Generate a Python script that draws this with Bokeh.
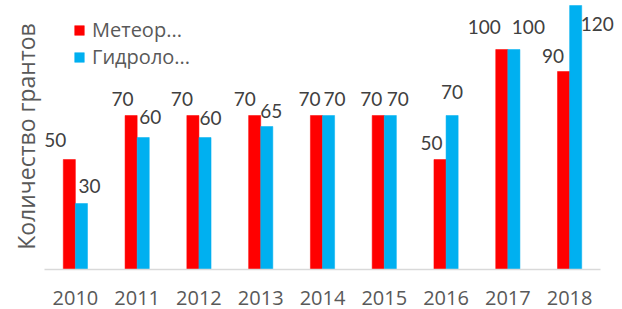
import math
from bokeh.plotting import figure
from bokeh.models import ColumnDataSource, Range1d, LabelSet, Label, Legend, LegendItem
from bokeh.transform import dodge
from bokeh.core.properties import value
from bokeh.embed import file_html
from bokeh.resources import INLINE

years = ["2010", "2011", "2012", "2013", "2014", "2015", "2016", "2017", "2018"]
meteo = [50, 70, 70, 70, 70, 70, 50, 100, 90]
hydro = [30, 60, 60, 65, 70, 70, 70, 100, 120]
series_names = ["Метеор...", "Гидроло..."]
y_title = "Количество грантов"

# label nudges (screen px) as in the reference
red_dx = [-14, -8.5, -11, -10, -7, -7, -8.5, -17.5, -10.5]
red_gap = [13, 10, 10, 10, 10, 10, 10, 16, 9]
blue_dx = [8, 7, 5.5, 4.5, 6, 7.5, 0, 14.5, 21.5]
blue_gap = [11, 14, 13, 9, 10, 10, 17, 16, -25]

RED = "#ff0000"
BLUE = "#00b0f0"

# layout (pixels)
W, H = 622, 309
PLOT_L, PLOT_R = 44, 600        # extent of the category axis
BASE_Y = 269                    # baseline (value 0) from top
PX_PER_UNIT = 2.2
n = len(years)
U = (PLOT_R - PLOT_L) / n       # px per category

x0 = -0.5 - PLOT_L / U
x1 = -0.5 + (W - PLOT_L) / U
y1 = BASE_Y / PX_PER_UNIT
y0 = -(H - BASE_Y) / PX_PER_UNIT

idx = list(range(n))
src = ColumnDataSource(dict(
    x=idx, year=years, zero=[0] * n,
    meteo=meteo, hydro=hydro,
    mt=[str(v) for v in meteo], ht=[str(v) for v in hydro],
    rdx=red_dx, rdy=red_gap, bdx=blue_dx, bdy=blue_gap,
))

p = figure(width=W, height=H, output_backend="svg", toolbar_location=None,
           x_range=Range1d(x0, x1), y_range=Range1d(y0, y1),
           x_axis_location=None, y_axis_location=None,
           min_border=0, outline_line_color=None,
           background_fill_color="white", border_fill_color="white")
p.grid.visible = False

bw = 0.196
r1 = p.vbar(x=dodge("x", -bw / 2), top="meteo", bottom=0, width=bw, source=src,
            fill_color=RED, line_color=RED, line_width=0.5)
r2 = p.vbar(x=dodge("x", bw / 2), top="hydro", bottom=0, width=bw, source=src,
            fill_color=BLUE, line_color=BLUE, line_width=0.5)

# category axis line
p.segment(x0=-0.5, y0=0, x1=n - 0.5, y1=0, line_color="#d9d9d9", line_width=1.5)

for col, txt, xf, dxc, dyc in (("meteo", "mt", -bw / 2, "rdx", "rdy"),
                                ("hydro", "ht", bw / 2, "bdx", "bdy")):
    p.add_layout(LabelSet(x=dodge("x", xf), y=col, text=txt, x_offset=dxc, y_offset=dyc,
                          source=src, text_align="center", text_baseline="alphabetic",
                          text_font=value("Lato"), text_font_size="19px",
                          text_color="#404040"))

# category labels under the axis
p.add_layout(LabelSet(x="x", y="zero", text="year", y_offset=-35, source=src,
                      text_align="center", text_baseline="alphabetic",
                      text_font=value("Open Sans"), text_font_size="20px",
                      text_color="#595959"))

# value-axis title
TITLE_X, TITLE_Y = 25, 136
p.add_layout(Label(x=x0 + TITLE_X / U, y=(BASE_Y - TITLE_Y) / PX_PER_UNIT,
                   text=y_title, angle=math.pi / 2,
                   text_align="center", text_baseline="alphabetic",
                   text_font="Open Sans", text_font_size="23px",
                   text_color="#595959"))

legend = Legend(items=[LegendItem(label=series_names[0], renderers=[r1]),
                       LegendItem(label=series_names[1], renderers=[r2])],
                location=(73, 239), orientation="vertical",
                glyph_width=12, glyph_height=12, label_height=22, spacing=-3,
                label_standoff=7, padding=0, margin=0,
                border_line_color=None, background_fill_alpha=0,
                label_text_font="Open Sans", label_text_font_size="20px",
                label_text_color="#595959")
p.add_layout(legend)

open("out.html", "w").write(file_html(p, INLINE))
